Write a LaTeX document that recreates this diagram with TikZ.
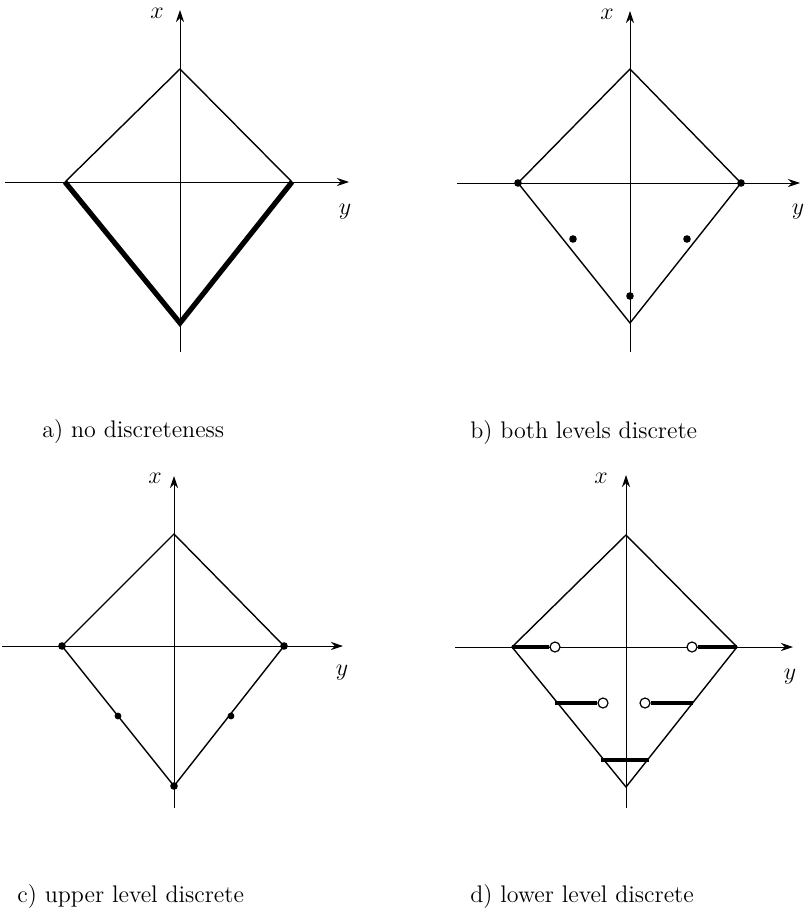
\documentclass[tikz,border=0pt]{standalone}
\usetikzlibrary{arrows.meta}
\begin{document}
\begin{tikzpicture}[x=0.5pt,y=-0.5pt,
  axis/.style={line width=0.45pt,-{Stealth[length=6pt,width=4pt]}},
  edge/.style={line width=0.7pt,line join=miter},
  thickedge/.style={line width=2.6pt,line join=miter},
  bar/.style={line width=2.1pt},
  dot/.style={circle,fill=black,inner sep=0pt,minimum size=3.8pt},
  odot/.style={circle,draw=black,fill=white,line width=0.6pt,inner sep=0pt,minimum size=5pt},
  lab/.style={inner sep=0pt,font=\fontsize{13}{15}\selectfont},
  captext/.style={anchor=base west,inner sep=0pt,font=\fontsize{12}{14}\selectfont}]
\useasboundingbox (0,0) rectangle (807,910);

% ---------- panel a ----------
\coordinate (aT) at (180,69);  \coordinate (aL) at (65,182);
\coordinate (aR) at (292,182); \coordinate (aB) at (180,323);
\coordinate (aVb) at (180,352); \coordinate (aVt) at (180,10);
\coordinate (aHl) at (5,182);   \coordinate (aHr) at (349,182);
\draw[axis] (aVb) -- (aVt);
\draw[axis] (aHl) -- (aHr);
\draw[edge] (aL) -- (aT) -- (aR);
\draw[thickedge] (aL) -- (aB) -- (aR);
\node[lab] (ax) at (157,13) {$x$};
\node[lab] (ay) at (345,212) {$y$};
\node[captext] (acap) at (42,437) {a) no discreteness};

% ---------- panel b ----------
\coordinate (bT) at (630,69);  \coordinate (bL) at (518,183);
\coordinate (bR) at (741,183); \coordinate (bB) at (630,323);
\coordinate (bVb) at (630,352); \coordinate (bVt) at (630,11);
\coordinate (bHl) at (457,183); \coordinate (bHr) at (800,183);
\draw[axis] (bVb) -- (bVt);
\draw[axis] (bHl) -- (bHr);
\draw[edge] (bL) -- (bT) -- (bR) -- (bB) -- cycle;
\node[dot] (bd1) at (bL) {};
\node[dot] (bd2) at (bR) {};
\node[dot] (bd3) at (573,239) {};
\node[dot] (bd4) at (687,239) {};
\node[dot] (bd5) at (630,296) {};
\node[lab] (bx) at (607,14) {$x$};
\node[lab] (by) at (798,212) {$y$};
\node[captext] (bcap) at (470,438) {b) both levels discrete};

% ---------- panel c ----------
\coordinate (cT) at (174,534);  \coordinate (cL) at (62,646);
\coordinate (cR) at (284,646);  \coordinate (cB) at (174,786);
\coordinate (cVb) at (174,808); \coordinate (cVt) at (174,476);
\coordinate (cHl) at (2,646);   \coordinate (cHr) at (343,646);
\draw[axis] (cVb) -- (cVt);
\draw[axis] (cHl) -- (cHr);
\draw[edge] (cL) -- (cT) -- (cR) -- (cB) -- cycle;
\node[dot] (cd1) at (cL) {};
\node[dot] (cd2) at (cR) {};
\node[dot] (cd3) at (cB) {};
\node[dot,minimum size=3.4pt] (cd4) at (118,716) {};
\node[dot,minimum size=3.4pt] (cd5) at (231,716) {};
\node[lab] (cx) at (155,478) {$x$};
\node[lab] (cy) at (342,673) {$y$};
\node[captext] (ccap) at (17,902) {c) upper level discrete};

% ---------- panel d ----------
\coordinate (dT) at (626,535);  \coordinate (dL) at (512,647);
\coordinate (dR) at (737,647);  \coordinate (dB) at (626,787);
\coordinate (dVb) at (626,808); \coordinate (dVt) at (626,475);
\coordinate (dHl) at (455,647); \coordinate (dHr) at (793,647);
\draw[axis] (dVb) -- (dVt);
\draw[axis] (dHl) -- (dHr);
\draw[edge] (dL) -- (dT) -- (dR) -- (dB) -- cycle;
\coordinate (dm1) at (555,703); \coordinate (dm2) at (693,703);
\coordinate (dl1) at (601,760); \coordinate (dl2) at (649,760);
\node[odot] (do1) at (555,647) {};
\node[odot] (do2) at (692,647) {};
\node[odot] (do3) at (603,703) {};
\node[odot] (do4) at (645,703) {};
\draw[bar] (dL) -- (do1.west);
\draw[bar] (do2.east) -- (dR);
\draw[bar] (dm1) -- (do3.west);
\draw[bar] (do4.east) -- (dm2);
\draw[bar] (dl1) -- (dl2);
\node[lab] (dx) at (601,478) {$x$};
\node[lab] (dy) at (790,677) {$y$};
\node[captext] (dcap) at (470,902) {d) lower level discrete};
\end{tikzpicture}
\end{document}
